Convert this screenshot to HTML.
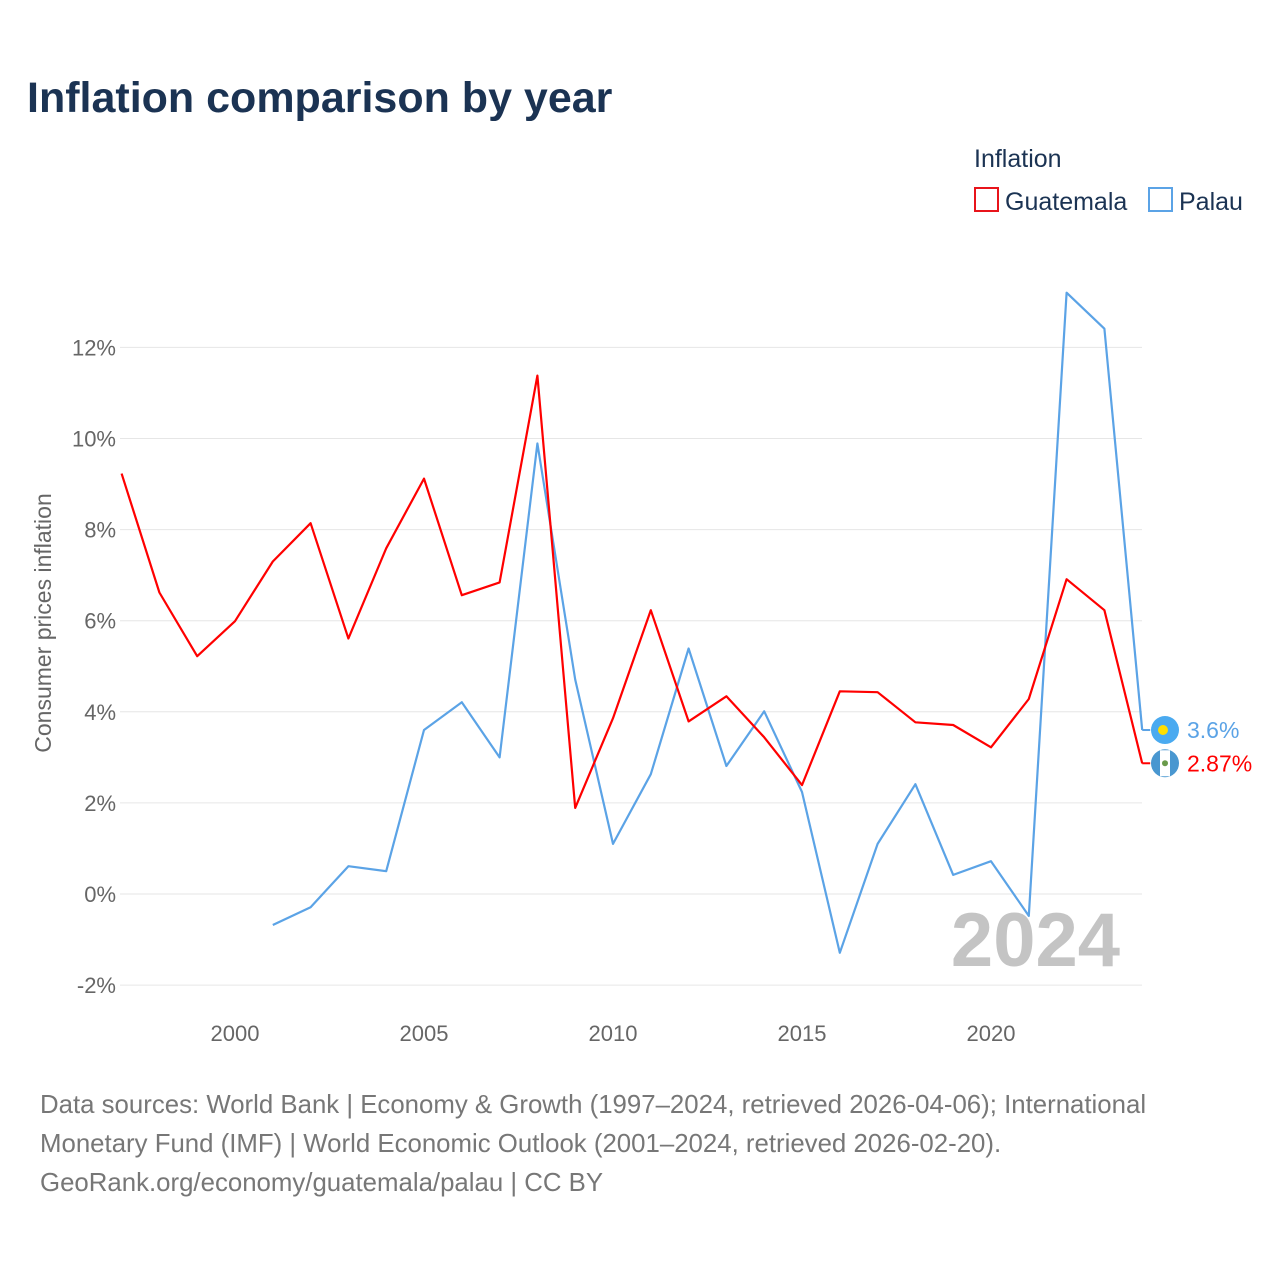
<!DOCTYPE html>
<html><head><meta charset="utf-8">
<style>
body{margin:0;background:#fff;font-family:"Liberation Sans",sans-serif;}
#wrap{position:relative;width:1280px;height:1280px;overflow:hidden;}
</style></head>
<body><div id="wrap">
<svg id="chart" width="1280" height="1280">
<text x="27" y="112" font-size="43" font-weight="bold" fill="#1b3353">Inflation comparison by year</text>
<text x="974" y="167" font-size="25" fill="#1b3353">Inflation</text>
<g><rect x="975" y="188" width="23" height="23" fill="#fff" stroke="#e8141b" stroke-width="2"/><text x="1005" y="210" font-size="25" fill="#1b3353">Guatemala</text></g>
<g><rect x="1149" y="188" width="23" height="23" fill="#fff" stroke="#5ba3e6" stroke-width="2"/><text x="1179" y="210" font-size="25" fill="#1b3353">Palau</text></g>
<g id="grid"></g><g id="series"></g>
<text transform="translate(51,623) rotate(-90)" text-anchor="middle" font-size="23" fill="#666">Consumer prices inflation</text>
<text x="1120" y="966" text-anchor="end" font-size="76" font-weight="bold" fill="#c4c4c4">2024</text>
<text font-size="25.8" fill="#777"><tspan x="40" y="1113">Data sources: World Bank | Economy &amp; Growth (1997–2024, retrieved 2026-04-06); International</tspan><tspan x="40" y="1152">Monetary Fund (IMF) | World Economic Outlook (2001–2024, retrieved 2026-02-20).</tspan><tspan x="40" y="1191">GeoRank.org/economy/guatemala/palau | CC BY</tspan></text>
</svg></div>
<script>
const years=[1997,1998,1999,2000,2001,2002,2003,2004,2005,2006,2007,2008,2009,2010,2011,2012,2013,2014,2015,2016,2017,2018,2019,2020,2021,2022,2023,2024];
const guatemala=[9.23,6.62,5.22,5.99,7.30,8.14,5.61,7.59,9.12,6.56,6.84,11.38,1.89,3.86,6.23,3.79,4.34,3.44,2.39,4.45,4.43,3.77,3.71,3.22,4.28,6.91,6.23,2.87];
const palau=[null,null,null,null,-0.68,-0.29,0.61,0.50,3.60,4.21,3.00,9.89,4.71,1.10,2.63,5.39,2.81,4.01,2.24,-1.29,1.10,2.41,0.42,0.72,-0.48,13.20,12.41,3.60];
const yTicks=[-2,0,2,4,6,8,10,12];
const xTicks=[2000,2005,2010,2015,2020];
const NS="http://www.w3.org/2000/svg";
const X=y=>121.6+(y-1997)*37.8;
const Y=v=>894-v*45.55;
const grid=document.getElementById('grid'),ser=document.getElementById('series');
function mk(tag,attrs,parent){const e=document.createElementNS(NS,tag);for(const k in attrs)e.setAttribute(k,attrs[k]);parent.appendChild(e);return e;}
yTicks.forEach(t=>{
 const l=mk('line',{x1:120,x2:1142,y1:Y(t),y2:Y(t),stroke:'#e6e6e6','stroke-width':1},grid);
 
 
 const tx=mk('text',{x:116,y:Y(t)+8,'text-anchor':'end','font-size':22,fill:'#666'},grid);
 tx.textContent=t+'%';
 
 
});
xTicks.forEach(t=>{
 const tx=mk('text',{x:X(t),y:1041,'text-anchor':'middle','font-size':22,fill:'#666'},grid);
 tx.textContent=t;
 
 
});
function line(vals,color,name){
 let d='';vals.forEach((v,i)=>{if(v===null)return;d+=(d?'L':'M')+X(years[i]).toFixed(1)+','+Y(v).toFixed(1);});
 const p=mk('path',{d:d,fill:'none',stroke:color,'stroke-width':2.2,'stroke-linejoin':'round'},ser);
 
 
}
line(palau,'#5ba3e6','palau-line');
line(guatemala,'#ff0000','guatemala-line');
function endLabel(v,color,name,label,flag){
 const x2=X(2024),y=Y(v);
 const g=mk('g',{},ser);
 
 
 mk('line',{x1:x2,x2:x2+8,y1:y,y2:y,stroke:color,'stroke-width':2},g);
 if(flag==='pw'){mk('circle',{cx:1165,cy:y,r:14,fill:'#4aaaf0'},g);mk('circle',{cx:1163,cy:y,r:5,fill:'#ffde00'},g);}
 else{mk('circle',{cx:1165,cy:y,r:14,fill:'#4997d0'},g);mk('rect',{x:1160,y:y-13,width:10,height:26,fill:'#fff'},g);mk('circle',{cx:1165,cy:y,r:3,fill:'#6a9a4a'},g);}
 const t=mk('text',{x:1187,y:y+8,'font-size':23,fill:color},g);t.textContent=label;
}
endLabel(palau[27],'#5ba3e6','palau-end-label',palau[27].toFixed(1)+'%','pw');
endLabel(guatemala[27],'#ff0000','guatemala-end-label',guatemala[27]+'%','gt');
</script>
</body></html>
